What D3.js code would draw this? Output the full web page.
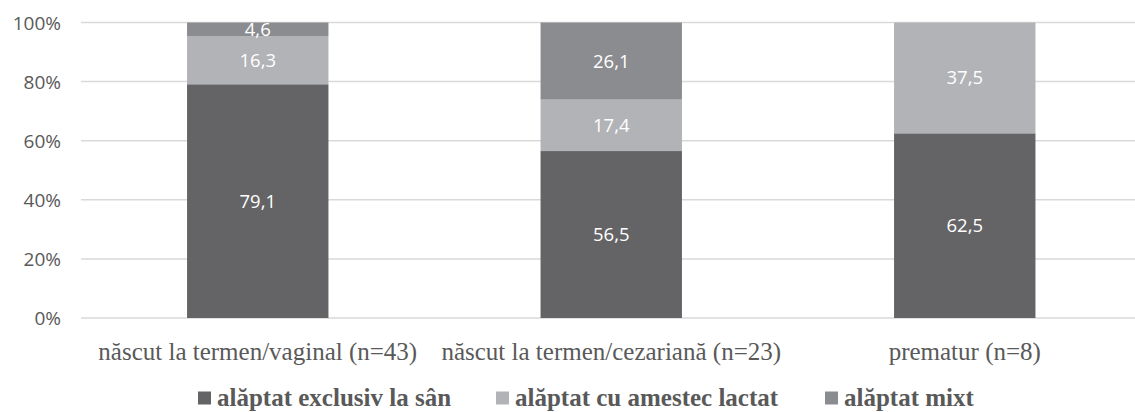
<!DOCTYPE html>
<html>
<head>
<meta charset="utf-8">
<script src="https://cdn.jsdelivr.net/npm/d3@7"></script>
<style>
  html, body { margin: 0; padding: 0; background: #fff; }
  svg { display: block; }
</style>
</head>
<body>
<svg id="chart" width="1135" height="412"></svg>
<script>
const categories = ["născut la termen/vaginal (n=43)", "născut la termen/cezariană (n=23)", "prematur (n=8)"];
const seriesNames = ["alăptat exclusiv la sân", "alăptat cu amestec lactat", "alăptat mixt"];
const exclusiv = [79.1, 56.5, 62.5];
const amestec = [16.3, 17.4, 37.5];
const mixt = [4.6, 26.1, 0];
const yTicks = [0, 20, 40, 60, 80, 100];
const colors = ["#646466", "#b2b3b6", "#8b8c90"];

const seriesValues = [exclusiv, amestec, mixt];
const rows = categories.map((c, i) => {
  const r = { cat: c };
  seriesNames.forEach((s, j) => r[s] = seriesValues[j][i]);
  return r;
});
const stacked = d3.stack().keys(seriesNames)(rows);

const svg = d3.select("#chart");
const x = d3.scaleBand().domain(categories).range([81, 1141.5]).paddingInner(0.6).paddingOuter(0.3);
const y = d3.scaleLinear().domain([0, 100]).range([318, 22.5]);

// gridlines
svg.append("g").selectAll("line").data(yTicks).join("line")
  .attr("x1", 81).attr("x2", 1135)
  .attr("y1", d => y(d)).attr("y2", d => y(d))
  .attr("stroke", "#d9d9d9").attr("stroke-width", 1.5);

// y axis labels
const yAxis = d3.axisLeft(y).tickValues(yTicks).tickFormat(d => d + "%").tickSize(0).tickPadding(0);
const ya = svg.append("g").attr("transform", "translate(61,0)").call(yAxis);
ya.select(".domain").remove();
ya.selectAll("text").attr("font-family", "'Open Sans', sans-serif").attr("font-size", 19)
  .attr("fill", "#595959").attr("dy", "0.35em");

// bars
const groups = svg.append("g").selectAll("g").data(stacked).join("g")
  .attr("fill", (d, i) => colors[i]);
groups.selectAll("rect").data(d => d.filter(p => p[1] - p[0] > 0)).join("rect")
  .attr("x", d => x(d.data.cat))
  .attr("width", x.bandwidth())
  .attr("y", d => y(d[1]))
  .attr("height", d => y(d[0]) - y(d[1]));

// data labels
const fmt = v => String(v).replace(".", ",");
svg.append("g").selectAll("g").data(stacked).join("g")
  .selectAll("text").data(d => d.filter(p => p[1] - p[0] > 0).map(p => ({ p, v: p[1] - p[0] }))).join("text")
  .attr("x", d => x(d.p.data.cat) + x.bandwidth() / 2)
  .attr("y", d => (y(d.p[0]) + y(d.p[1])) / 2)
  .attr("dy", "0.35em")
  .attr("text-anchor", "middle")
  .attr("font-family", "'Open Sans', sans-serif").attr("font-size", 18.5)
  .attr("fill", "#ffffff")
  .text(d => fmt(Math.round(d.v * 10) / 10));

// x axis labels
const xAxis = d3.axisBottom(x).tickSize(0).tickPadding(0);
const xa = svg.append("g").attr("transform", "translate(0,351)").call(xAxis);
xa.select(".domain").remove();
xa.selectAll("text").attr("font-family", "'Liberation Serif', 'Times New Roman', serif")
  .attr("font-size", 25).attr("fill", "#595959").attr("dy", "0.35em");

// legend
const legendX = [198, 496, 825];
const lg = svg.append("g").selectAll("g").data(seriesNames).join("g")
  .attr("transform", (d, i) => `translate(${legendX[i]},398)`);
lg.append("rect").attr("x", 0).attr("y", -6.5).attr("width", 13).attr("height", 13)
  .attr("fill", (d, i) => colors[i]);
lg.append("text").attr("x", 19).attr("dy", "0.3em")
  .attr("font-family", "'Liberation Serif', 'Times New Roman', serif")
  .attr("font-weight", "bold").attr("font-size", 25).attr("fill", "#595959")
  .text(d => d);
</script>
</body>
</html>
